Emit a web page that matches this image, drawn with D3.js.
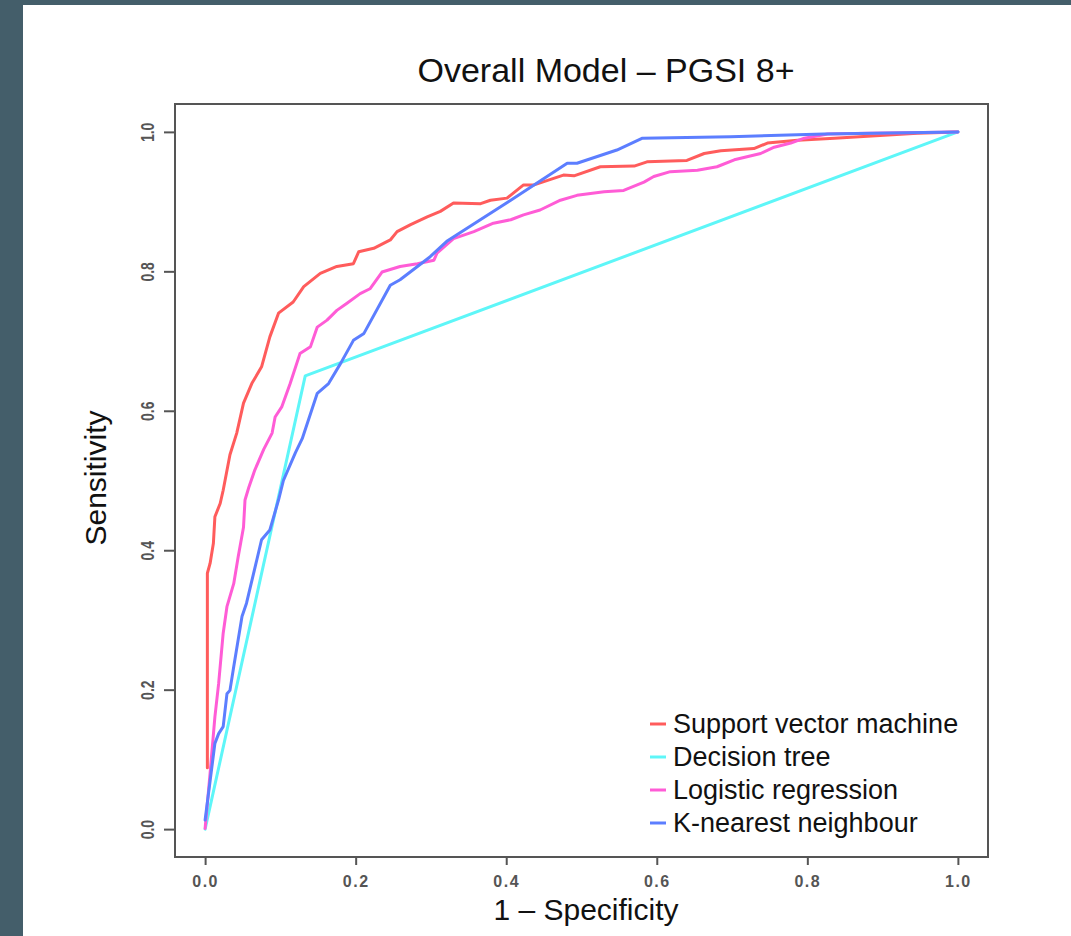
<!DOCTYPE html>
<html>
<head>
<meta charset="utf-8">
<script src="https://cdn.jsdelivr.net/npm/d3@7"></script>
<style>
  html, body { margin: 0; padding: 0; background: #445e6a; }
  svg { display: block; }
  text { font-family: "Liberation Sans", Arial, sans-serif; }
</style>
</head>
<body>
<svg id="chart" width="1071" height="936"></svg>
<script>
// ---- data (1 - specificity, sensitivity) ----
const svmPoints = [
  [0.003,0.088],[0.003,0.367],[0.0066,0.381],[0.011,0.41],[0.013,0.448],[0.02,0.467],[0.024,0.486],
  [0.033,0.537],[0.042,0.568],[0.051,0.611],[0.062,0.639],[0.075,0.663],[0.086,0.706],[0.0975,0.740],
  [0.117,0.756],[0.131,0.778],[0.153,0.797],[0.175,0.807],[0.197,0.811],[0.204,0.828],[0.224,0.833],
  [0.246,0.845],[0.255,0.857],[0.273,0.867],[0.295,0.878],[0.3125,0.886],[0.330,0.898],[0.366,0.897],
  [0.379,0.902],[0.401,0.905],[0.423,0.924],[0.437,0.924],[0.476,0.938],[0.490,0.937],[0.525,0.950],
  [0.570,0.951],[0.587,0.957],[0.640,0.959],[0.663,0.969],[0.685,0.973],[0.729,0.976],[0.747,0.984],
  [0.765,0.986],[0.787,0.988],[0.836,0.991],[0.946,0.998],[1.0,1.0]
];
const treePoints = [[0,0],[0.133,0.65],[1,1]];
const logisticPoints = [
  [0,0.001],[0.0066,0.08],[0.013,0.161],[0.018,0.209],[0.024,0.281],[0.029,0.319],[0.038,0.352],
  [0.044,0.391],[0.051,0.433],[0.053,0.472],[0.058,0.49],[0.066,0.515],[0.078,0.545],[0.089,0.568],
  [0.093,0.591],[0.102,0.606],[0.113,0.639],[0.126,0.682],[0.140,0.692],[0.149,0.720],[0.162,0.730],
  [0.175,0.744],[0.188,0.754],[0.206,0.768],[0.219,0.775],[0.235,0.799],[0.259,0.807],[0.282,0.811],
  [0.304,0.816],[0.308,0.826],[0.330,0.847],[0.357,0.857],[0.383,0.869],[0.406,0.874],[0.423,0.881],
  [0.445,0.888],[0.472,0.902],[0.494,0.909],[0.530,0.914],[0.556,0.916],[0.583,0.928],[0.596,0.936],
  [0.618,0.943],[0.654,0.945],[0.680,0.950],[0.703,0.960],[0.738,0.969],[0.756,0.978],[0.778,0.984],
  [0.796,0.991],[0.827,0.997],[0.880,0.998],[1.0,1.0]
];
const knnPoints = [
  [0,0.013],[0.013,0.123],[0.018,0.137],[0.024,0.147],[0.029,0.194],[0.033,0.199],[0.038,0.233],
  [0.049,0.305],[0.055,0.324],[0.075,0.415],[0.086,0.429],[0.0975,0.472],[0.104,0.50],[0.12,0.54],
  [0.129,0.560],[0.149,0.625],[0.164,0.639],[0.180,0.668],[0.197,0.701],[0.211,0.711],[0.246,0.780],
  [0.259,0.788],[0.299,0.821],[0.321,0.843],[0.406,0.902],[0.481,0.955],[0.494,0.955],[0.547,0.974],
  [0.581,0.991],[0.698,0.993],[0.822,0.997],[1.0,1.0]
];
const seriesNames = ["Support vector machine","Decision tree","Logistic regression","K-nearest neighbour"];
const seriesColors = ["#ff5c5c","#5ef6f8","#ff5cd6","#5c7eff"];
const seriesData = [svmPoints, treePoints, logisticPoints, knnPoints];
const tickValues = [0, 0.2, 0.4, 0.6, 0.8, 1.0];
const titleText = "Overall Model \u2013 PGSI 8+";
const xLabel = "1 \u2013 Specificity";
const yLabel = "Sensitivity";

// ---- drawing ----
const svg = d3.select("#chart");
svg.append("rect").attr("x", 23).attr("y", 5).attr("width", 1048).attr("height", 931).attr("fill", "#ffffff");

const box = {left: 175, top: 104, right: 988, bottom: 857};
const x = d3.scaleLinear().domain([-0.04, 1.04]).range([box.left, box.right]);
const y = d3.scaleLinear().domain([-0.04, 1.04]).range([box.bottom, box.top]);

const line = d3.line().x(d => x(d[0])).y(d => y(d[1]));
seriesData.forEach((pts, i) => {
  svg.append("path").datum(pts).attr("d", line)
    .attr("fill", "none").attr("stroke", seriesColors[i])
    .attr("stroke-width", 3).attr("stroke-linejoin", "round").attr("stroke-linecap", "round");
});

svg.append("rect").attr("x", box.left).attr("y", box.top)
  .attr("width", box.right - box.left).attr("height", box.bottom - box.top)
  .attr("fill", "none").attr("stroke", "#555").attr("stroke-width", 2);

const xAxis = svg.append("g").attr("transform", `translate(0,${box.bottom})`)
  .call(d3.axisBottom(x).tickValues(tickValues).tickFormat(d3.format(".1f")).tickSize(8).tickPadding(11));
xAxis.select(".domain").remove();
xAxis.selectAll("line").attr("stroke", "#555").attr("stroke-width", 2);
xAxis.selectAll("text").attr("font-size", 16).attr("font-weight", "bold").attr("fill", "#555")
  .attr("letter-spacing", 1.5).attr("font-family", "'Liberation Sans', Arial, sans-serif");

const yAxis = svg.append("g").attr("transform", `translate(${box.left},0)`)
  .call(d3.axisLeft(y).tickValues(tickValues).tickFormat(d3.format(".1f")).tickSize(11).tickPadding(0));
yAxis.select(".domain").remove();
yAxis.selectAll("line").attr("stroke", "#555").attr("stroke-width", 2);
yAxis.selectAll("text").remove();
yAxis.selectAll(".tick").append("text")
  .attr("transform", "translate(-27,0) scale(1.3,1) rotate(-90)")
  .attr("text-anchor", "middle").attr("dy", "0.35em")
  .attr("font-size", 14).attr("font-weight", "bold").attr("fill", "#555")
  .attr("font-family", "'Liberation Sans', Arial, sans-serif")
  .text(d => d3.format(".1f")(d));

svg.append("text").attr("x", 606).attr("y", 82).attr("text-anchor", "middle")
  .attr("font-size", 34).attr("fill", "#111").text(titleText);
svg.append("text").attr("x", 586).attr("y", 920).attr("text-anchor", "middle")
  .attr("font-size", 30).attr("fill", "#111").text(xLabel);
svg.append("text").attr("transform", "translate(106,478) rotate(-90)").attr("text-anchor", "middle")
  .attr("font-size", 30).attr("fill", "#111").text(yLabel);

const legend = svg.append("g");
seriesNames.forEach((name, i) => {
  const cy = 724 + i * 33;
  legend.append("line").attr("x1", 650).attr("x2", 666).attr("y1", cy).attr("y2", cy)
    .attr("stroke", seriesColors[i]).attr("stroke-width", 3);
  legend.append("text").attr("x", 673).attr("y", cy).attr("dy", "0.35em")
    .attr("font-size", 27).attr("fill", "#111").text(name);
});
</script>
</body>
</html>
